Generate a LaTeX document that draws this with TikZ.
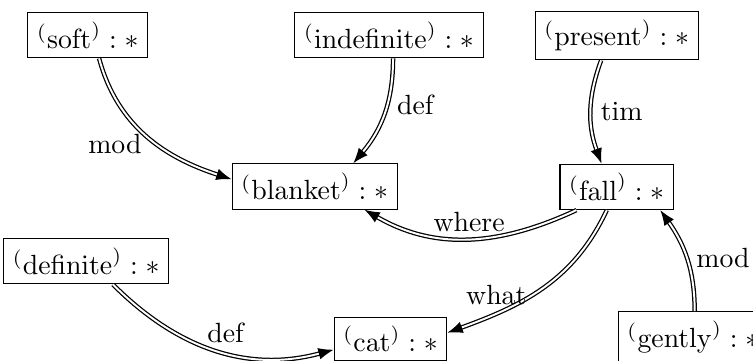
\documentclass[tikz,border=0pt]{standalone}
\usepackage{amsmath}
\usetikzlibrary{arrows.meta}

\newcommand{\gsem}[1]{$^{(}\mathrm{#1}^{)}:*$}

\tikzset{sem/.style={draw, inner sep=3.3pt},
  dep/.style={double, double distance=0.7pt, line width=0.45pt, -{Latex[length=5.5pt,width=4.2pt]}}}

\begin{document}
\begin{tikzpicture}
  \useasboundingbox (0,0) rectangle (9.525,4.554);
  % glue nodes
  \node[sem] (soft) at (1.11,4.11) {\gsem{soft}};
  \node[sem] (indef) at (4.92,4.11) {\gsem{indefinite}};
  \node[sem] (present) at (7.80,4.105) {\gsem{present}};
  \node[sem] (blanket) at (3.98,2.195) {\gsem{blanket}};
  \node[sem] (fall) at (7.80,2.19) {\gsem{fall}};
  \node[sem] (def) at (1.09,1.25) {\gsem{definite}};
  \node[sem] (cat) at (4.94,0.27) {\gsem{cat}};
  \node[sem] (gently) at (8.77,0.29) {\gsem{gently}};
  % dependencies
  \draw[dep] (soft.-64) to[out=-75,in=162] node[pos=0.47,below left=-3pt] {mod} (blanket.175);
  \draw[dep] (indef.-80) to[out=-90,in=50] node[pos=0.4,right] {def} (blanket.31);
  \draw[dep] (present.-122) to[out=-110,in=110] node[right] {tim} (fall.123);
  \draw[dep] (fall.-150) to[out=-155,in=-30] node[above=-1pt] {where} (blanket.-25);
  \draw[dep] (fall.-113) to[out=-115,in=20] node[pos=0.62,above left=-5pt] {what} (cat.6);
  \draw[dep] (def.-41) to[out=-45,in=195] node[pos=0.55,above] {def} (cat.191);
  \draw[dep] (gently.87) to[out=90,in=-55] node[right] {mod} (fall.-28);
\end{tikzpicture}
\end{document}
